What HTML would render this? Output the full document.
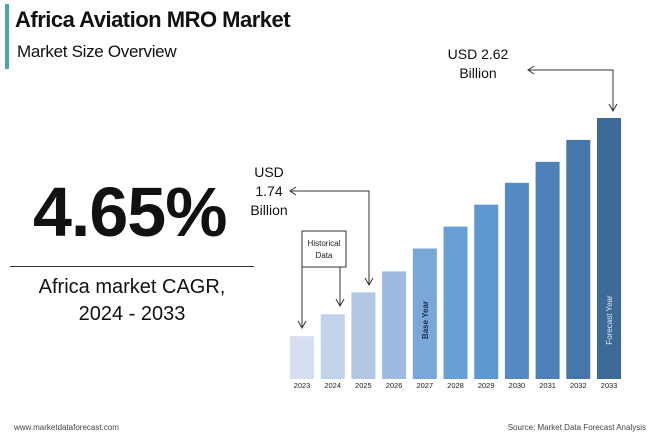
<!DOCTYPE html>
<html><head><meta charset="utf-8"><style>
body{margin:0;width:652px;height:439px;background:#fff;font-family:"Liberation Sans",sans-serif;overflow:hidden;position:relative}
.a{position:absolute;white-space:nowrap}
</style></head><body>
<div class="a" style="left:5px;top:4px;width:4px;height:65px;background:#4aa7a3"></div>
<div class="a" style="left:15px;top:7px;font-size:22px;font-weight:bold;color:#111;letter-spacing:-0.5px">Africa Aviation MRO Market</div>
<div class="a" style="left:17px;top:42px;font-size:17px;color:#111;letter-spacing:-0.3px">Market Size Overview</div>
<div class="a" style="left:33px;top:172px;font-size:70px;font-weight:bold;color:#111;letter-spacing:-1px">4.65%</div>
<div class="a" style="left:10px;top:266px;width:244px;height:1px;background:#333"></div>
<div class="a" style="left:10px;width:244px;top:274px;font-size:20px;color:#111;text-align:center;line-height:27px">Africa market CAGR,<br>2024 - 2033</div>
<div class="a" style="left:14px;top:423px;font-size:8px;color:#444">www.marketdataforecast.com</div>
<div class="a" style="right:6px;top:423px;font-size:8px;color:#444">Source: Market Data Forecast Analysis</div>
<svg class="a" style="left:0;top:0" width="652" height="439">
<g id="bars"></g>
<g fill="none" stroke="#333" stroke-width="1">
<path d="M291 191 H369 V284"/>
<path d="M365 278 L369 285 L373 278 M296 187 L290 191 L296 195"/>
<rect x="302" y="231" width="44" height="36"/>
<path d="M302 267 V327 M298 321 L302 328 L306 321 M340 267 V305 M336 299 L340 306 L344 299"/>
<path d="M528 70 H613 V110 M609 104 L613 111 L617 104 M534 66 L528 70 L534 74"/>
</g>
<text x="324" y="246" font-size="8" text-anchor="middle" fill="#222">Historical</text>
<text x="324" y="258" font-size="8" text-anchor="middle" fill="#222">Data</text>
<text x="269" y="177" font-size="14" text-anchor="middle" fill="#111">USD</text>
<text x="269" y="196" font-size="14" text-anchor="middle" fill="#111">1.74</text>
<text x="269" y="215" font-size="14" text-anchor="middle" fill="#111">Billion</text>
<text x="478" y="59" font-size="14" text-anchor="middle" fill="#111">USD 2.62</text>
<text x="478" y="78" font-size="14" text-anchor="middle" fill="#111">Billion</text>
</svg>
<script>
const years=["2023","2024","2025","2026","2027","2028","2029","2030","2031","2032","2033"];
const values=[0.43,0.65,0.87,1.08,1.31,1.53,1.75,1.97,2.18,2.40,2.62];
const colors=["#d5dff0","#c2d2ea","#b0c7e6","#9dbbe0","#7ba7d8","#679fd6","#5e98d1","#568ac4","#4e80ba","#4776aa","#3e6a98"];
const ns="http://www.w3.org/2000/svg",g=document.getElementById('bars');
const base=379,x0=290,pitch=30.7,bw=24,scale=261/2.62;
const xs=i=>x0+i*pitch, ys=v=>base-v*scale;
years.forEach((y,i)=>{
 const r=document.createElementNS(ns,'rect');
 
 
 r.setAttribute('x',xs(i));r.setAttribute('y',ys(values[i]));
 r.setAttribute('width',bw);r.setAttribute('height',base-ys(values[i]));
 r.setAttribute('fill',colors[i]);g.appendChild(r);
 const t=document.createElementNS(ns,'text');
 
 
 t.setAttribute('x',xs(i)+bw/2);t.setAttribute('y',388);
 t.setAttribute('font-size','7.5');t.setAttribute('text-anchor','middle');t.setAttribute('fill','#222');
 t.textContent=y;g.appendChild(t);
});
function vlabel(i,txt,fill,name,bold){
 const t=document.createElementNS(ns,'text');
 
 
 const cx=xs(i)+bw/2+3,cy=320;
 t.setAttribute('transform','translate('+cx+','+cy+') rotate(-90)');
 t.setAttribute('font-size','8');t.setAttribute('fill',fill);t.setAttribute('text-anchor','middle');
 if(bold)t.setAttribute('font-weight','bold');
 t.textContent=txt;g.appendChild(t);
}
vlabel(4,"Base Year","#1c2e4a","base-year-label",true);
vlabel(10,"Forecast Year","#dde6f2","forecast-year-label",false);
</script>
</body></html>
